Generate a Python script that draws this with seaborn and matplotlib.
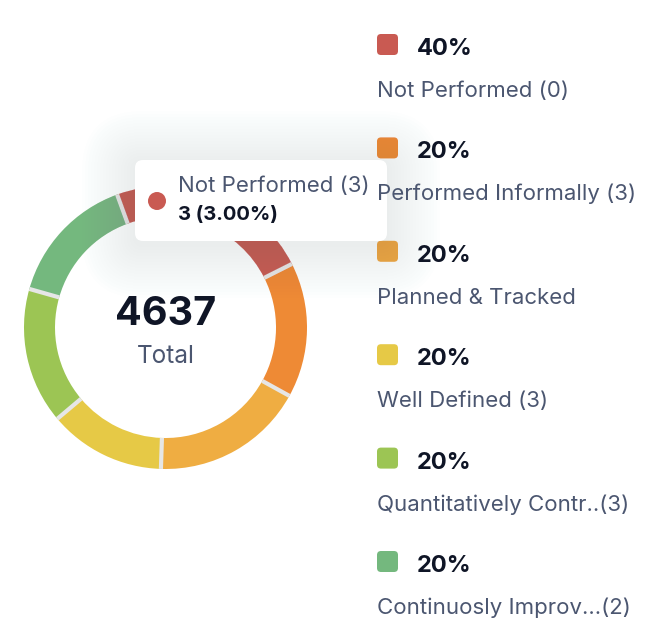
import matplotlib
matplotlib.use("Agg")
import numpy as np
import matplotlib.pyplot as plt
from matplotlib.patches import FancyBboxPatch, Circle
import seaborn as sns

# data
labels = ["Not Performed (0)", "Performed Informally (3)", "Planned & Tracked",
          "Well Defined (3)", "Quantitatively Contr..(3)", "Continuosly Improv...(2)"]
percents = ["40%", "20%", "20%", "20%", "20%", "20%"]
values = [1073, 716, 811, 618, 721, 698]
hexes = ["#c95a52", "#ee8a35", "#efad42", "#e6c946", "#9cc554", "#74b87e"]
total_label = "4637"
tip_title = "Not Performed (3)"
tip_value = "3 (3.00%)"

sns.set_theme(style="white")
plt.rcParams["font.family"] = ["Inter", "DejaVu Sans"]
palette = sns.color_palette(hexes)

W, H = 672, 643
fig = plt.figure(figsize=(W / 100, H / 100), dpi=100)
fig.patch.set_facecolor("white")

# donut
cx, cy, r = 165.5, 327.5, 141.5
ring = 31 / r
start = 110
pax = fig.add_axes([(cx - r) / W, (H - cy - r) / H, 2 * r / W, 2 * r / H])
pax.pie(values, colors=palette, startangle=start, counterclock=False, radius=1,
        wedgeprops=dict(width=ring, edgecolor="none", linewidth=0))
# thin grey separators between the slices
bounds = start - 360 * np.cumsum([0] + values[:-1]) / sum(values)
for a in np.deg2rad(bounds):
    pax.plot([(1 - ring) * np.cos(a), np.cos(a)],
             [(1 - ring) * np.sin(a), np.sin(a)],
             color="#e6e6e6", lw=3, solid_capstyle="butt")
pax.set_xlim(-1, 1)
pax.set_ylim(-1, 1)
pax.axis("off")

# overlay in pixel coords
ax = fig.add_axes([0, 0, 1, 1], facecolor="none")
ax.set_xlim(0, W)
ax.set_ylim(H, 0)
ax.axis("off")

dark = "#0f1526"
slate = "#4b5670"

ax.text(cx, 325, total_label, ha="center", va="baseline", fontsize=28.5,
        fontweight="bold", color=dark)
ax.text(cx, 363, "Total", ha="center", va="baseline", fontsize=17.5, color=slate)

# legend
step = 103.4
for i, (lab, pct) in enumerate(zip(labels, percents)):
    y0 = i * step
    ax.add_patch(FancyBboxPatch((377, 34 + y0), 21, 21,
                                boxstyle="round,pad=0,rounding_size=4",
                                facecolor=palette[i], edgecolor="none"))
    ax.text(417, 55 + y0, pct, ha="left", va="baseline", fontsize=17,
            fontweight="bold", color=dark)
    ax.text(377, 97 + y0, lab, ha="left", va="baseline", fontsize=16, color=slate)

# tooltip with soft shadow
bx, by, bw, bh = 135, 160, 252, 81
for k in range(18):
    p = 2 + k * 3
    ax.add_patch(FancyBboxPatch((bx - p, by - p + 4), bw + 2 * p, bh + 2 * p,
                                boxstyle="round,pad=0,rounding_size=%d" % (8 + p),
                                facecolor="#7a8598", edgecolor="none", alpha=0.007))
ax.add_patch(FancyBboxPatch((bx, by), bw, bh, boxstyle="round,pad=0,rounding_size=8",
                            facecolor="white", edgecolor="none"))
ax.add_patch(Circle((157, 201), 9, facecolor=palette[0], edgecolor="none"))
ax.text(178, 192, tip_title, ha="left", va="baseline", fontsize=16, color=slate)
ax.text(178, 220, tip_value, ha="left", va="baseline", fontsize=14.5,
        fontweight="bold", color=dark)

fig.savefig("out.png", dpi=100, facecolor="white")
